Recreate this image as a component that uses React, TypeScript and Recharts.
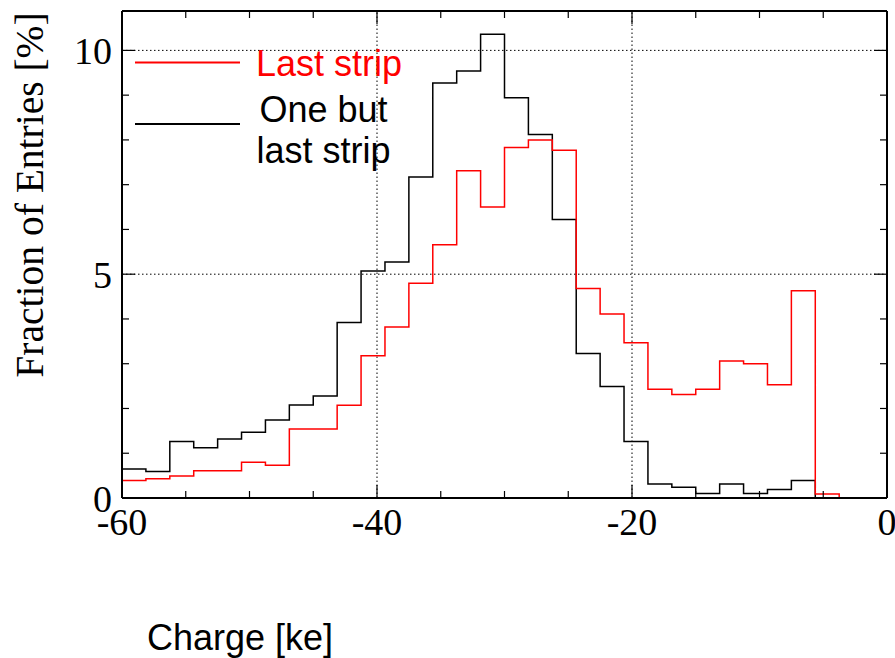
import React from 'react';
import { ComposedChart, Line, XAxis, YAxis, ReferenceLine, Legend } from 'recharts';

// bin lower edges (32 bins of 1.875 ke) plus the upper edge of the last bin
const binEdges = [
  -60, -58.125, -56.25, -54.375, -52.5, -50.625, -48.75, -46.875,
  -45, -43.125, -41.25, -39.375, -37.5, -35.625, -33.75, -31.875,
  -30, -28.125, -26.25, -24.375, -22.5, -20.625, -18.75, -16.875,
  -15, -13.125, -11.25, -9.375, -7.5, -5.625, -3.75, -1.875, 0,
];

// Fraction of entries [%] per bin
const lastStrip = [
  0.39, 0.43, 0.49, 0.61, 0.61, 0.8, 0.73, 1.54,
  1.54, 2.07, 3.18, 3.82, 4.8, 5.66, 7.31, 6.5,
  7.83, 8.0, 7.77, 4.68, 4.11, 3.47, 2.43, 2.31,
  2.43, 3.06, 3.0, 2.53, 4.63, 0.09, 0, 0,
];
const oneButLast = [
  0.65, 0.59, 1.26, 1.12, 1.32, 1.47, 1.74, 2.08,
  2.28, 3.92, 5.07, 5.27, 7.17, 9.27, 9.54, 10.36,
  8.94, 8.12, 6.22, 3.23, 2.49, 1.26, 0.31, 0.24,
  0.1, 0.31, 0.1, 0.19, 0.39, 0, 0, 0,
];

const xTicks = [-60, -55, -50, -45, -40, -35, -30, -25, -20, -15, -10, -5, 0];
const yTicks = [0, 1, 2, 3, 4, 5, 6, 7, 8, 9, 10];
const xGrid = [-40, -20];
const yGrid = [5, 10];

// stepAfter needs one extra point at the right edge
const data = binEdges.map((x, i) => ({
  x,
  red: i < lastStrip.length ? lastStrip[i] : lastStrip[lastStrip.length - 1],
  black: i < oneButLast.length ? oneButLast[i] : oneButLast[oneButLast.length - 1],
}));

const serif = '"Liberation Serif", "Times New Roman", serif';
const sans = '"Liberation Sans", Arial, sans-serif';

const BottomTick = ({ x, y, payload }: any) => {
  const major = payload.value % 20 === 0;
  return (
    <g>
      <line x1={x} x2={x} y1={y} y2={y - (major ? 13 : 7)} stroke="#000" strokeWidth={1.2} />
      {major && (
        <text x={x} y={y + 37} textAnchor="middle" fontFamily={serif} fontSize={38} fill="#000">
          {payload.value}
        </text>
      )}
    </g>
  );
};

const TopTick = ({ x, y, payload }: any) => {
  const major = payload.value % 20 === 0;
  return <line x1={x} x2={x} y1={y} y2={y + (major ? 13 : 7)} stroke="#000" strokeWidth={1.2} />;
};

const LeftTick = ({ x, y, payload }: any) => {
  const major = payload.value % 5 === 0;
  return (
    <g>
      <line x1={x} x2={x + (major ? 13 : 7)} y1={y} y2={y} stroke="#000" strokeWidth={1.2} />
      {major && (
        <text x={x - 10} y={y + 14} textAnchor="end" fontFamily={serif} fontSize={38} fill="#000">
          {payload.value}
        </text>
      )}
    </g>
  );
};

const RightTick = ({ x, y, payload }: any) => {
  const major = payload.value % 5 === 0;
  return <line x1={x} x2={x - (major ? 13 : 7)} y1={y} y2={y} stroke="#000" strokeWidth={1.2} />;
};

const YTitle = ({ viewBox }: any) => {
  const cx = viewBox.x + viewBox.width - 79;
  const cy = viewBox.y + 184;
  return (
    <text x={cx} y={cy} transform={`rotate(-90 ${cx} ${cy})`} textAnchor="middle" fontFamily={serif} fontSize={39.5} fill="#000">
      Fraction of Entries [%]
    </text>
  );
};

const XTitle = ({ viewBox }: any) => (
  <text x={viewBox.x + 25} y={viewBox.y + 152} fontFamily={sans} fontSize={36} fill="#000">
    Charge [ke]
  </text>
);

const LegendBox = () => (
  <svg width={895} height={180} style={{ position: 'absolute', left: 0, top: 0, overflow: 'visible' }}>
    <line x1={135} x2={240} y1={62.5} y2={62.5} stroke="#ff0000" strokeWidth={2} />
    <text x={256} y={76} fontFamily={sans} fontSize={36} fill="#ff0000">Last strip</text>
    <line x1={135} x2={240} y1={124} y2={124} stroke="#000" strokeWidth={2} />
    <text x={323.5} y={122} textAnchor="middle" fontFamily={sans} fontSize={36} fill="#000">One but</text>
    <text x={323.5} y={163} textAnchor="middle" fontFamily={sans} fontSize={36} fill="#000">last strip</text>
  </svg>
);

export default function App() {
  return (
    <div style={{ position: 'absolute', left: 0, top: 0, width: 895, height: 658, background: '#fff' }}>
      <ComposedChart width={895} height={658} data={data} margin={{ top: 10, right: 7, bottom: 159, left: 121 }}>
        <XAxis
          dataKey="x"
          type="number"
          domain={[-60, 0]}
          ticks={xTicks}
          interval={0}
          allowDataOverflow
          height={1}
          tickSize={0}
          tickMargin={0}
          tickLine={false}
          tick={<BottomTick />}
          axisLine={{ stroke: '#000', strokeWidth: 2 }}
          label={<XTitle />}
        />
        <XAxis
          xAxisId="top"
          orientation="top"
          dataKey="x"
          type="number"
          domain={[-60, 0]}
          ticks={xTicks}
          interval={0}
          allowDataOverflow
          height={1}
          tickSize={0}
          tickMargin={0}
          tickLine={false}
          tick={<TopTick />}
          axisLine={{ stroke: '#000', strokeWidth: 2 }}
        />
        <YAxis
          type="number"
          domain={[0, 10.88]}
          ticks={yTicks}
          interval={0}
          allowDataOverflow
          width={1}
          tickSize={0}
          tickMargin={0}
          tickLine={false}
          tick={<LeftTick />}
          axisLine={{ stroke: '#000', strokeWidth: 2 }}
          label={<YTitle />}
        />
        <YAxis
          yAxisId="right"
          orientation="right"
          type="number"
          domain={[0, 10.88]}
          ticks={yTicks}
          interval={0}
          allowDataOverflow
          width={1}
          tickSize={0}
          tickMargin={0}
          tickLine={false}
          tick={<RightTick />}
          axisLine={{ stroke: '#000', strokeWidth: 2 }}
        />
        {xGrid.map((v) => (
          <ReferenceLine key={`gx${v}`} x={v} stroke="#000" strokeWidth={1} strokeDasharray="1.5 2.5" />
        ))}
        {yGrid.map((v) => (
          <ReferenceLine key={`gy${v}`} y={v} stroke="#000" strokeWidth={1} strokeDasharray="1.5 2.5" />
        ))}
        <Line
          dataKey="black"
          type="stepAfter"
          stroke="#000"
          strokeWidth={1.5}
          dot={false}
          isAnimationActive={false}
        />
        <Line
          dataKey="red"
          type="stepAfter"
          stroke="#ff0000"
          strokeWidth={1.5}
          dot={false}
          isAnimationActive={false}
        />
        <Legend
          layout="horizontal"
          verticalAlign="middle"
          align="center"
          wrapperStyle={{ left: 0, top: 0, width: 895, height: 0 }}
          content={<LegendBox />}
        />
      </ComposedChart>
    </div>
  );
}
